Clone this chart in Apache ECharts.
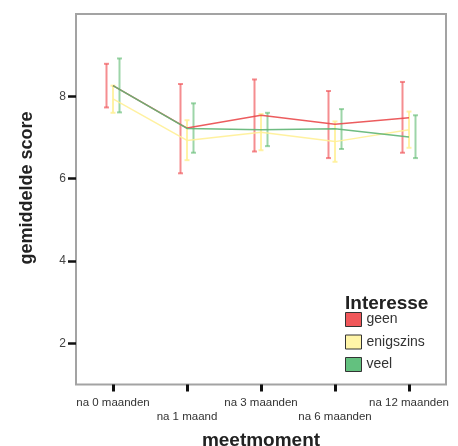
<!DOCTYPE html>
<html>
<head>
<meta charset="utf-8">
<script src="https://cdn.jsdelivr.net/npm/echarts@6/dist/echarts.min.js"></script>
<style>html,body{margin:0;padding:0;background:#fff;}#c{width:458px;height:446px;}</style>
</head>
<body>
<div id="c"></div>
<script>
var categories = ['na 0 maanden', 'na 1 maand', 'na 3 maanden', 'na 6 maanden', 'na 12 maanden'];
var yTicks = [2, 4, 6, 8];

var geenMean = [8.26, 7.23, 7.54, 7.32, 7.48];
var geenLow  = [7.73, 6.13, 6.66, 6.50, 6.63];
var geenHigh = [8.79, 8.30, 8.41, 8.13, 8.35];

var enigMean = [7.94, 6.93, 7.13, 6.90, 7.19];
var enigLow  = [7.60, 6.45, 6.69, 6.41, 6.75];
var enigHigh = [8.26, 7.42, 7.57, 7.39, 7.63];

var veelMean = [8.26, 7.22, 7.19, 7.21, 7.01];
var veelLow  = [7.61, 6.63, 6.79, 6.72, 6.50];
var veelHigh = [8.92, 7.83, 7.60, 7.69, 7.54];

var FONT = "'Liberation Sans', Arial, sans-serif";

function errData(lo, hi) {
  return lo.map(function (v, i) { return [i, v, hi[i]]; });
}
function errSeries(name, lo, hi, color, offset) {
  return {
    name: name,
    type: 'custom',
    z: 3,
    silent: true,
    data: errData(lo, hi),
    encode: { x: 0, y: [1, 2] },
    renderItem: function (params, api) {
      var i = api.value(0);
      var pLo = api.coord([i, api.value(1)]);
      var pHi = api.coord([i, api.value(2)]);
      var x = pLo[0] + offset;
      var cap = 2.5;
      var st = { stroke: color, lineWidth: 2 };
      return {
        type: 'group',
        children: [
          { type: 'line', shape: { x1: x, y1: pLo[1], x2: x, y2: pHi[1] }, style: st },
          { type: 'line', shape: { x1: x - cap, y1: pLo[1], x2: x + cap, y2: pLo[1] }, style: st },
          { type: 'line', shape: { x1: x - cap, y1: pHi[1], x2: x + cap, y2: pHi[1] }, style: st }
        ]
      };
    }
  };
}
function lineSeries(name, data, boxColor, lineColor) {
  return {
    name: name,
    type: 'line',
    data: data,
    symbol: 'none',
    z: 4,
    itemStyle: { color: boxColor },
    lineStyle: { color: lineColor, width: 1.5, opacity: 0.9 }
  };
}

var chart = echarts.init(document.getElementById('c'), null, { renderer: 'canvas' });
chart.setOption({
  animation: false,
  backgroundColor: '#ffffff',
  textStyle: { fontFamily: FONT },
  grid: { left: 76, right: 12, top: 14, bottom: 61.5, outerBoundsMode: 'none', containLabel: false, show: true, borderColor: '#a3a3a3', borderWidth: 2, backgroundColor: 'transparent' },
  xAxis: {
    type: 'category',
    data: categories,
    boundaryGap: true,
    axisLine: { show: false },
    axisTick: { show: true, alignWithLabel: true, length: 7, lineStyle: { color: '#111', width: 3 } },
    axisLabel: {
      interval: 0,
      fontSize: 11.5,
      lineHeight: 14.5,
      color: '#333',
      margin: 11,
      fontFamily: FONT,
      formatter: function (v, i) { return i % 2 ? '\n' + v : v; }
    },
    name: 'meetmoment',
    nameLocation: 'middle',
    nameGap: 47,
    nameTextStyle: { fontSize: 19, fontWeight: 'bold', color: '#222', fontFamily: FONT }
  },
  yAxis: {
    type: 'value',
    min: 1,
    max: 10,
    splitLine: { show: false },
    axisLine: { show: false },
    axisTick: { show: true, customValues: yTicks, length: 8, lineStyle: { color: '#111', width: 2.5 } },
    axisLabel: { customValues: yTicks, fontSize: 12, color: '#444', margin: 10, fontFamily: FONT }
  },
  legend: {
    orient: 'vertical',
    left: 345,
    top: 312,
    padding: 0,
    icon: 'rect',
    itemWidth: 16,
    itemHeight: 14,
    itemGap: 7.5,
    textStyle: { fontSize: 14, color: '#333', lineHeight: 14, fontFamily: FONT },
    itemStyle: { borderColor: '#333', borderWidth: 1 },
    data: ['geen', 'enigszins', 'veel']
  },
  graphic: [
    { type: 'text', left: 345, top: 294, style: { text: 'Interesse', fontSize: 19, fontWeight: 'bold', fill: '#222', fontFamily: FONT } },
    { type: 'text', x: 27, y: 188, rotation: Math.PI / 2, style: { text: 'gemiddelde score', fontSize: 18, fontWeight: 'bold', fill: '#222', align: 'center', verticalAlign: 'middle', fontFamily: FONT } }
  ],
  series: [
    errSeries('geen-err', geenLow, geenHigh, 'rgba(240,80,84,0.65)', -6.5),
    errSeries('enigszins-err', enigLow, enigHigh, 'rgba(255,240,150,0.85)', 0),
    errSeries('veel-err', veelLow, veelHigh, 'rgba(92,185,110,0.6)', 6.5),
    lineSeries('geen', geenMean, '#F0575A', '#ea4a4d'),
    lineSeries('enigszins', enigMean, '#FFF5A8', '#fff096'),
    lineSeries('veel', veelMean, '#63C17F', '#5fb574')
  ]
});
</script>
</body>
</html>
